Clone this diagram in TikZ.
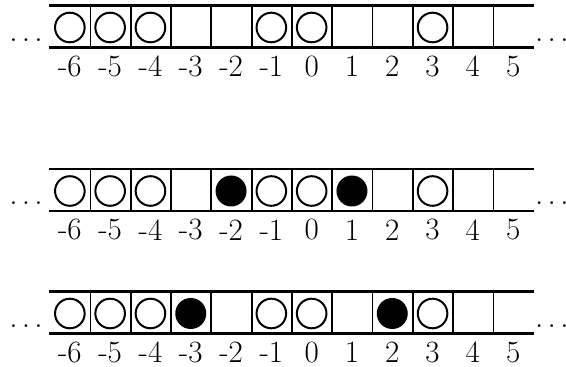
\documentclass[tikz,border=0pt]{standalone}
\usepackage{tikz}

\tikzset{
  cell/.style={rectangle, minimum width=20.15pt, minimum height=20.5pt, inner sep=0pt},
  tapeline/.style={line width=1.3pt},
  wall/.style={line width=0.9pt},
  hole/.style={circle, draw, line width=1pt, minimum size=14.8pt, inner sep=0pt},
  ball/.style={circle, fill=black, minimum size=15.5pt, inner sep=0pt},
  cellnum/.style={font=\fontsize{15.5}{18}\selectfont, inner sep=0pt},
  more/.style={font=\fontsize{14.5}{17}\selectfont, inner sep=0pt},
}

\begin{document}
\begin{tikzpicture}[x=0.5pt, y=-0.5pt]
    \useasboundingbox (0,0) rectangle (566,367);

    % Tapes: cells -6 ... 5
    \foreach \r/\t in {1/6, 2/169.5, 3/292} {
        \foreach \k in {0,...,11} {
            \pgfmathtruncatemacro\lab{\k-6}
            \node[cell] (c\r-\k) at (69.85+40.3*\k, \t+20.5) {};
            \node[cellnum, yshift=-9.5pt] (n\r-\k) at (c\r-\k.south) {\lab};
        }
        % Borders
        \draw[tapeline] (c\r-0.north west) -- (c\r-11.north east);
        \draw[tapeline] (c\r-0.south west) -- (c\r-11.south east);
        \foreach \k in {0,...,10} {
            \draw[wall] (c\r-\k.north east) -- (c\r-\k.south east);
        }
        % Dots
        \node[more, anchor=base east] (l\r) at (43, \t+35.5) {$\ldots$};
        \node[more, anchor=base west] (m\r) at (535, \t+35.5) {$\ldots$};
        % Empty sites
        \foreach \k in {0,1,2,5,6,9} {
            \node[hole, yshift=-0.5pt] (h\r-\k) at (c\r-\k) {};
        }
    }

    % Particles
    \node[ball, yshift=-0.5pt] (b2-4) at (c2-4) {};
    \node[ball, yshift=-0.5pt] (b2-7) at (c2-7) {};
    \node[ball, yshift=-0.5pt] (b3-3) at (c3-3) {};
    \node[ball, yshift=-0.5pt] (b3-8) at (c3-8) {};
\end{tikzpicture}
\end{document}
